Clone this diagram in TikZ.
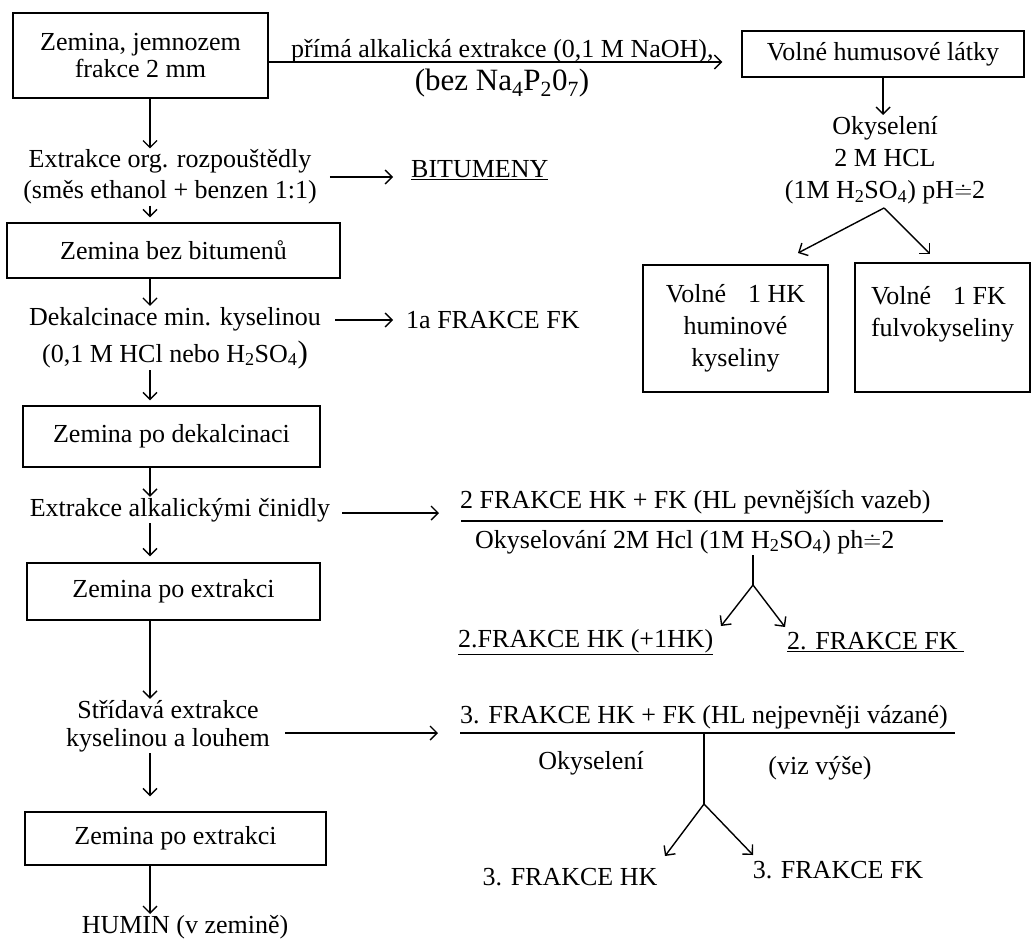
\documentclass[tikz,border=0pt]{standalone}
\usepackage{fontspec}
\setmainfont{Liberation Serif}
\usetikzlibrary{arrows.meta,calc}
\begin{document}
\begin{tikzpicture}[x=1pt,y=-1pt,
  font=\fontsize{26}{31}\selectfont,
  box/.style={draw, line width=1.4pt, inner sep=0pt, align=center},
  lab/.style={inner sep=1pt, align=center},
  arr/.style={-{Straight Barb[length=7pt,width=14pt,line width=1.4pt]}, line width=1.4pt},
  ln/.style={line width=1.4pt}]
\useasboundingbox (0,0) rectangle (1032,942);
\coordinate (col) at (150,0);
% left column
\node[box, minimum width=255pt, minimum height=85pt, font=\fontsize{26}{27}\selectfont] (b1) at (140.5,55.5) {Zemina, jemnozem\\frakce 2 mm};
\node[lab] (ex1) at (170,177) {Extrakce org. rozpouštědly\\(směs ethanol + benzen 1:1)};
\node[lab, anchor=west] (bit) at (410,170) {\underline{BITUMENY}};
\node[box, minimum width=333pt, minimum height=55pt] (zb) at (173.5,250.5) {Zemina bez bitumenů};
\node[lab, font=\fontsize{26}{37}\selectfont] (dek) at (175,338) {Dekalcinace min. kyselinou\\(0,1 M HCl nebo H\textsubscript{2}SO\textsubscript{4}{\fontsize{31}{31}\selectfont)}};
\node[lab, anchor=west] (f1a) at (405,320) {1a FRAKCE FK};
\node[box, minimum width=297pt, minimum height=61pt] (zd) at (171.5,436.5) {Zemina po dekalcinaci};
\node[lab] (ext) at (180,510) {Extrakce alkalickými činidly};
\node[box, minimum width=293pt, minimum height=57pt] (ze1) at (173.5,591.5) {Zemina po extrakci};
\node[lab, font=\fontsize{26}{28}\selectfont] (str) at (168,726) {Střídavá extrakce\\kyselinou a louhem};
\node[box, minimum width=301pt, minimum height=53pt] (ze2) at (175.5,838.5) {Zemina po extrakci};
\node[lab] (hum) at (185,927) {HUMIN (v zemině)};
% top right
\node[lab, anchor=base west] (na) at (290,57) {přímá alkalická extrakce (0,1 M NaOH),};
\node[lab, font=\fontsize{31}{31}\selectfont] (bez) at (502,83) {(bez Na\textsubscript{4}P\textsubscript{2}0\textsubscript{7})};
\coordinate (lny) at (0,62);
\node[box, minimum width=282pt, minimum height=46pt] (vh) at (883,54) {Volné humusové látky};
\node[lab, font=\fontsize{26}{32}\selectfont] (oky1) at (885,160) {Okyselení\\2 M HCL\\(1M H\textsubscript{2}SO\textsubscript{4}) pH$\doteq$2};
\coordinate (ap1) at (884,208);
\coordinate (t1) at (798,253);
\coordinate (t2) at (930,254);
\node[box, minimum width=185pt, minimum height=127pt, font=\fontsize{26}{32}\selectfont] (hk) at (735.5,328.5) {Volné\hspace{22pt}1 HK\\huminové\\kyseliny};
\node[box, minimum width=175pt, minimum height=129pt, align=left, font=\fontsize{26}{32}\selectfont] (fk) at (942.5,327.5) {Volné\hspace{22pt}1 FK\\fulvokyseliny\\\mbox{}};
% fraction 2
\node[lab, anchor=west] (f2) at (459,502) {2 FRAKCE HK + FK (HL pevnějších vazeb)};
\node[lab, anchor=west] (ok2) at (474,542) {Okyselování 2M Hcl (1M H\textsubscript{2}SO\textsubscript{4}) ph$\doteq$2};
\coordinate (b2l) at (461,521);
\coordinate (b2r) at (943,521);
\coordinate (v2) at (753,555);
\coordinate (br2) at (753,585);
\coordinate (t3) at (721,626);
\coordinate (t4) at (785,627);
\node[lab, anchor=west] (f2hk) at (457,642) {\underline{2.FRAKCE HK (+1HK)}};
\node[lab, anchor=west] (f2fk) at (786,642) {\underline{2. FRAKCE FK\ }};
% fraction 3
\node[lab, anchor=west] (f3) at (459,717) {3. FRAKCE HK + FK (HL nejpevněji vázané)};
\coordinate (b3l) at (460,733);
\coordinate (b3r) at (955,733);
\coordinate (v3) at (704,733);
\coordinate (br3) at (704,804);
\coordinate (t5) at (665,856);
\coordinate (t6) at (753,855);
\node[lab] (ok3) at (591,763) {Okyselení};
\node[lab] (viz) at (820,768) {(viz výše)};
\node[lab] (f3hk) at (570,877) {3. FRAKCE HK};
\node[lab] (f3fk) at (838,870) {3. FRAKCE FK};
% connectors left column
\draw[arr] (b1.south -| col) -- (ex1.north -| col);
\draw[arr] (ex1.south -| col) -- ([yshift=5pt]zb.north -| col);
\draw[arr] (zb.south -| col) -- (dek.north -| col);
\draw[arr] (dek.south -| col) -- ([yshift=5pt]zd.north -| col);
\draw[arr] (zd.south -| col) -- (ext.north -| col);
\draw[arr] (ext.south -| col) -- ([yshift=6pt]ze1.north -| col);
\draw[arr] (ze1.south -| col) -- (str.north -| col);
\draw[arr] (str.south -| col) -- ([yshift=15pt]ze2.north -| col);
\draw[arr] (ze2.south -| col) -- (hum.north -| col);
% horizontal connectors
\draw[arr, shorten >=19pt] (b1.east |- lny) -- (vh.west |- lny);
\draw[arr, shorten <=12pt, shorten >=17pt] (ex1.east) -- (bit.west |- ex1.east);
\draw[arr, shorten <=13pt, shorten >=12pt] (dek.east |- f1a.west) -- (f1a.west);
\draw[arr, shorten <=11pt, shorten >=22pt] ([yshift=-3pt]ext.east) -- ([yshift=-3pt]b2l |- ext.east);
\draw[arr, shorten <=14pt, shorten >=22pt] (str.east |- b3l) -- (b3l);
% right side
\draw[arr] (vh.south) -- (oky1.north -| vh.south);
\draw[arr] (ap1) -- (t1);
\draw[arr] (ap1) -- (t2);
\draw[ln] (b2l) -- (b2r);
\draw[ln] (v2) -- (br2);
\draw[arr] (br2) -- (t3);
\draw[arr] (br2) -- (t4);
\draw[ln] (b3l) -- (b3r);
\draw[ln] (v3) -- (br3);
\draw[arr] (br3) -- (t5);
\draw[arr] (br3) -- (t6);
\end{tikzpicture}
\end{document}
